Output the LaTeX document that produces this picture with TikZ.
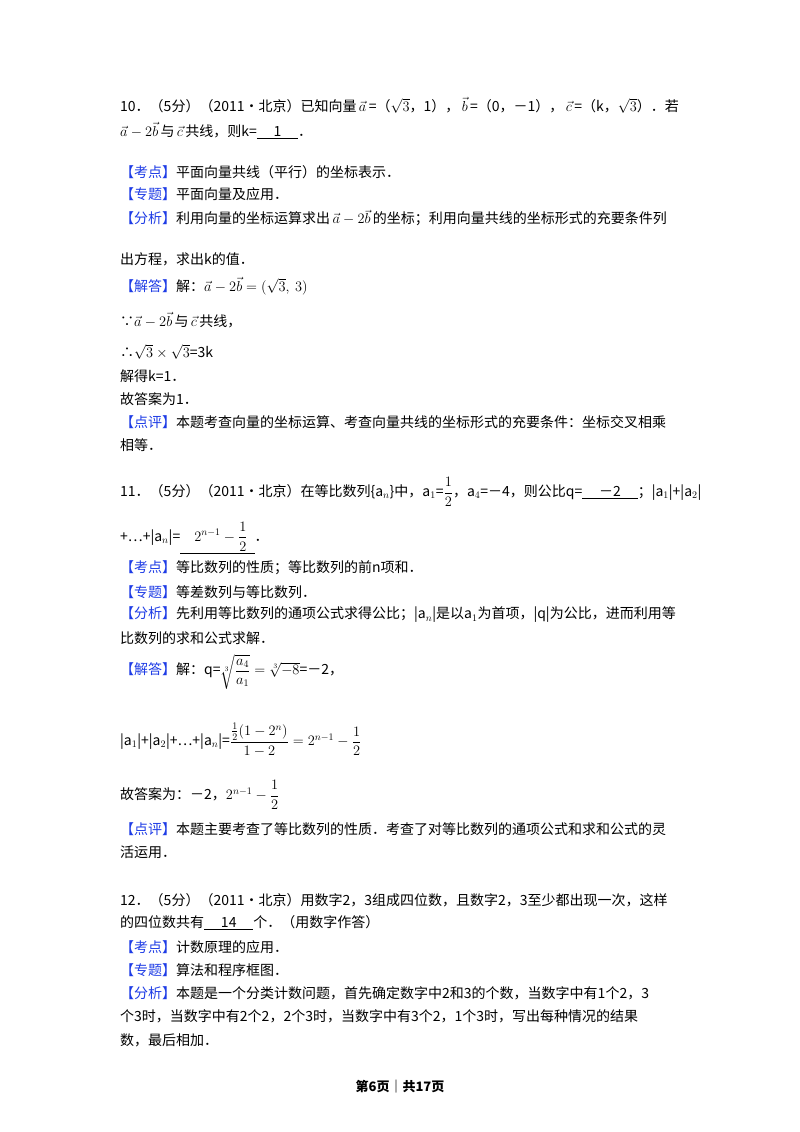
\documentclass[tikz,border=0pt]{standalone}
\usepackage{fontspec}
\setmainfont{Noto Sans CJK SC}
\usepackage{amsmath}
\newcommand{\kd}[1]{{\color{kblue}【#1】}}
\newcommand{\ul}[1]{\underline{\hspace{1.2em}#1\hspace{1.2em}}}
\newcommand{\va}{\,\vec a\,}
\newcommand{\vb}{\,\vec b\,}
\newcommand{\vc}{\,\vec c\,}
\definecolor{kblue}{RGB}{30,60,230}
\begin{document}
\begin{tikzpicture}[x=1pt,y=-1pt,txt/.style={anchor=west,inner sep=0pt,font=\fontsize{14}{16}\selectfont}]
\useasboundingbox (0,0) rectangle (800,1132);
\fill[white] (0,0) rectangle (800,1132);
\node[txt] (l1) at (120,105) {10．（5分）（2011•北京）已知向量$\va$=（$\sqrt3$，1），$\vb$=（0，－1），$\vc$=（k，$\sqrt3$）．若};
\node[txt] (l2) at (120,131) {$\vec a-2\vec b$\,与\,$\vec c$\,共线，则k=\ul{1}．};
\node[txt] (l3) at (120,172) {\kd{考点}平面向量共线（平行）的坐标表示．};
\node[txt] (l4) at (120,194) {\kd{专题}平面向量及应用．};
\node[txt] (l5) at (120,218) {\kd{分析}利用向量的坐标运算求出\,$\vec a-2\vec b$\,的坐标；利用向量共线的坐标形式的充要条件列};
\node[txt] (l6) at (120,259) {出方程，求出k的值．};
\node[txt] (l7) at (120,286) {\kd{解答}解：$\vec a-2\vec b=(\sqrt3,\ 3)$};
\node[txt] (l8) at (120,320) {∵$\vec a-2\vec b$\,与\,$\vec c$\,共线，};
\node[txt] (l9) at (120,352) {∴$\sqrt3\times\sqrt3$=3k};
\node[txt] (l10) at (120,376) {解得k=1．};
\node[txt] (l11) at (120,399) {故答案为1．};
\node[txt] (l12) at (120,422) {\kd{点评}本题考查向量的坐标运算、考查向量共线的坐标形式的充要条件：坐标交叉相乘};
\node[txt] (l13) at (120,445) {相等．};
\node[txt] (m1) at (120,492) {11．（5分）（2011•北京）在等比数列\{a$_n$\}中，a$_1$=$\dfrac12$，a$_4$=－4，则公比q=\ul{－2}；|a$_1$|+|a$_2$|};
\node[txt] (m2) at (120,538) {+…+|a$_n$|=\underline{\hspace{1em}$2^{n-1}-\dfrac12$\hspace{0.5em}}．};
\node[txt] (m3) at (120,568) {\kd{考点}等比数列的性质；等比数列的前n项和．};
\node[txt] (m4) at (120,592) {\kd{专题}等差数列与等比数列．};
\node[txt] (m5) at (120,615) {\kd{分析}先利用等比数列的通项公式求得公比；|a$_n$|是以a$_1$为首项，|q|为公比，进而利用等};
\node[txt] (m6) at (120,638) {比数列的求和公式求解．};
\node[txt] (m7) at (120,672) {\kd{解答}解：q=$\sqrt[3]{\dfrac{a_4}{a_1}}=\sqrt[3]{-8}$=－2，};
\node[txt] (m8) at (120,740) {|a$_1$|+|a$_2$|+…+|a$_n$|=$\dfrac{\frac12(1-2^n)}{1-2}=2^{n-1}-\dfrac12$};
\node[txt] (m9) at (120,795) {故答案为：－2，$2^{n-1}-\dfrac12$};
\node[txt] (m10) at (120,829) {\kd{点评}本题主要考查了等比数列的性质．考查了对等比数列的通项公式和求和公式的灵};
\node[txt] (m11) at (120,852) {活运用．};
\node[txt] (n1) at (120,900) {12．（5分）（2011•北京）用数字2，3组成四位数，且数字2，3至少都出现一次，这样};
\node[txt] (n2) at (120,923) {的四位数共有\ul{14}个．（用数字作答）};
\node[txt] (n3) at (120,947) {\kd{考点}计数原理的应用．};
\node[txt] (n4) at (120,970) {\kd{专题}算法和程序框图．};
\node[txt] (n5) at (120,993) {\kd{分析}本题是一个分类计数问题，首先确定数字中2和3的个数，当数字中有1个2，3};
\node[txt] (n6) at (120,1016) {个3时，当数字中有2个2，2个3时，当数字中有3个2，1个3时，写出每种情况的结果};
\node[txt] (n7) at (120,1040) {数，最后相加．};
\node[anchor=center,inner sep=0pt,font=\fontsize{13}{15}\selectfont\bfseries] (ft) at (400,1087) {第6页｜共17页};
\end{tikzpicture}
\end{document}
